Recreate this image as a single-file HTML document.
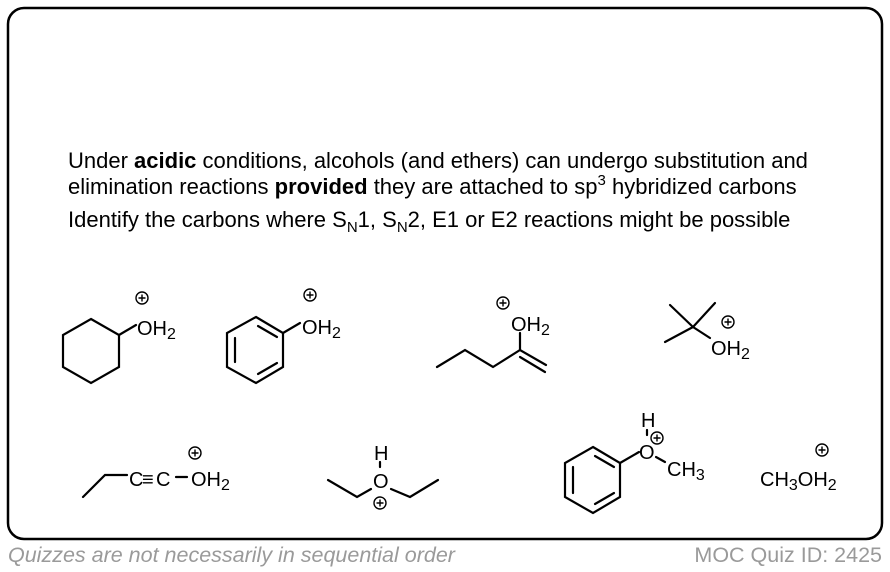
<!DOCTYPE html>
<html><head><meta charset="utf-8"><style>
html,body{margin:0;padding:0;background:#fff}
svg{display:block}
text{font-family:"Liberation Sans",Arial,sans-serif}
</style></head><body>
<svg width="890" height="572" viewBox="0 0 890 572" xmlns="http://www.w3.org/2000/svg">
<rect x="8" y="8" width="874" height="531" rx="16" fill="#fff" stroke="#000" stroke-width="2.5"/>
<g font-size="22" fill="#000">
<text x="68" y="168">Under <tspan font-weight="bold">acidic</tspan> conditions, alcohols (and ethers) can undergo substitution and</text>
<text x="68" y="194">elimination reactions <tspan font-weight="bold">provided</tspan> they are attached to sp<tspan font-size="15" dy="-9">3</tspan><tspan dy="9"> hybridized carbons</tspan></text>
<text x="68" y="227">Identify the carbons where S<tspan font-size="15" dy="5">N</tspan><tspan dy="-5">1, S</tspan><tspan font-size="15" dy="5">N</tspan><tspan dy="-5">2, E1 or E2 reactions might be possible</tspan></text>
</g>
<g stroke="#000" stroke-width="2.2" fill="none" stroke-linecap="round">
<polygon points="91,319 119,335 119,367 91,383 63,367 63,335"/>
<line x1="119" y1="335" x2="136" y2="325"/>
<polygon points="256,317 283,333 283,367 256,383 227,367 227,333"/>
<line x1="235" y1="338" x2="235" y2="362"/>
<line x1="258" y1="326" x2="277" y2="337"/>
<line x1="258" y1="374" x2="277" y2="363"/>
<line x1="283" y1="333" x2="300" y2="323"/>
<polyline points="437,367 465,350 493,367 520,350 546,365"/>
<line x1="520" y1="357" x2="545" y2="372"/>
<line x1="520" y1="350" x2="520" y2="333"/>
<line x1="693" y1="327" x2="670" y2="305"/>
<line x1="693" y1="327" x2="715" y2="303"/>
<line x1="693" y1="327" x2="665" y2="342"/>
<line x1="693" y1="327" x2="710" y2="338"/>
<polyline points="83,497 105,475 127,475"/>
<line x1="176" y1="477" x2="187" y2="477"/>
<polyline points="328,480 357,497 371,489"/>
<polyline points="391,489 410,497 438,480"/>
<line x1="380" y1="462" x2="380" y2="467"/>
<polygon points="593,447 620,463 620,497 593,513 565,497 565,463"/>
<line x1="573" y1="467" x2="573" y2="493"/>
<line x1="595" y1="456" x2="614" y2="467"/>
<line x1="595" y1="504" x2="614" y2="493"/>
<line x1="620" y1="463" x2="639" y2="452"/>
<line x1="647" y1="430" x2="647" y2="435"/>
<line x1="656" y1="457" x2="665" y2="462"/>
</g>
<g font-size="20" fill="#000">
<text x="137" y="335">OH<tspan font-size="16" dy="4">2</tspan></text>
<text x="302" y="334">OH<tspan font-size="16" dy="4">2</tspan></text>
<text x="511" y="331">OH<tspan font-size="16" dy="4">2</tspan></text>
<text x="711" y="355">OH<tspan font-size="16" dy="4">2</tspan></text>
<text x="129" y="486">C</text>
<text x="142" y="486">≡</text>
<text x="156" y="486">C</text>
<text x="191" y="486">OH<tspan font-size="16" dy="4">2</tspan></text>
<text x="373" y="488">O</text>
<text x="374" y="460">H</text>
<text x="639" y="459">O</text>
<text x="641" y="427">H</text>
<text x="667" y="476">CH<tspan font-size="16" dy="4">3</tspan></text>
<text x="760" y="486">CH<tspan font-size="16" dy="4">3</tspan><tspan dy="-4">OH</tspan><tspan font-size="16" dy="4">2</tspan></text>
</g>
<g stroke="#000" stroke-width="1.4" fill="none">
<g transform="translate(142,298)"><circle r="6"/><path d="M-3.5 0H3.5M0 -3.5V3.5"/></g>
<g transform="translate(310,295)"><circle r="6"/><path d="M-3.5 0H3.5M0 -3.5V3.5"/></g>
<g transform="translate(503,303)"><circle r="6"/><path d="M-3.5 0H3.5M0 -3.5V3.5"/></g>
<g transform="translate(728,322)"><circle r="6"/><path d="M-3.5 0H3.5M0 -3.5V3.5"/></g>
<g transform="translate(195,453)"><circle r="6"/><path d="M-3.5 0H3.5M0 -3.5V3.5"/></g>
<g transform="translate(380,503)"><circle r="6"/><path d="M-3.5 0H3.5M0 -3.5V3.5"/></g>
<g transform="translate(657,438)"><circle r="6"/><path d="M-3.5 0H3.5M0 -3.5V3.5"/></g>
<g transform="translate(822,450)"><circle r="6"/><path d="M-3.5 0H3.5M0 -3.5V3.5"/></g>
</g>
<text x="8" y="562" font-size="21.5" font-style="italic" fill="#9a9a9a">Quizzes are not necessarily in sequential order</text>
<text x="882" y="562" font-size="21.5" fill="#9a9a9a" text-anchor="end">MOC Quiz ID: 2425</text>
</svg>
</body></html>
